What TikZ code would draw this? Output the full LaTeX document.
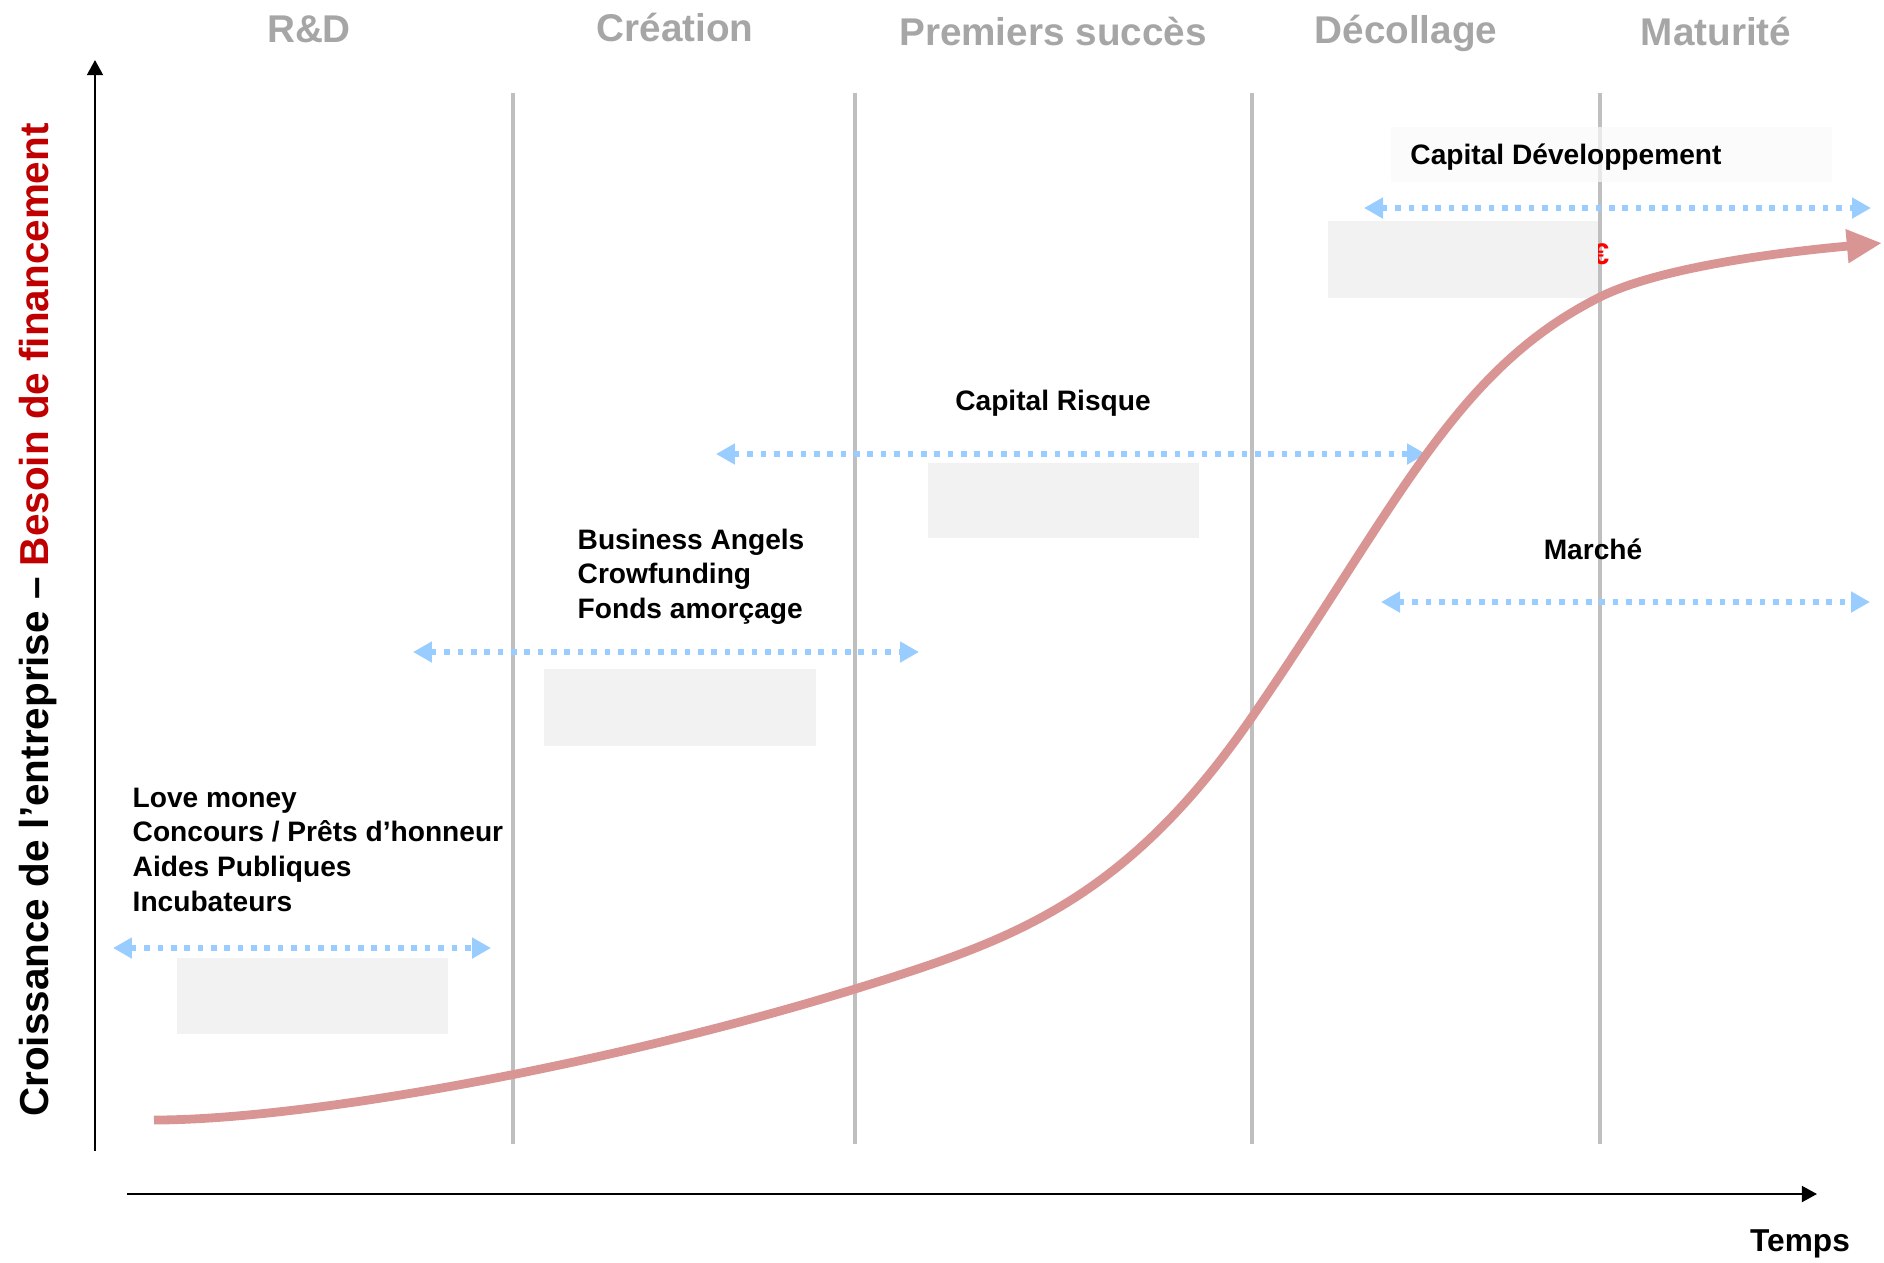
\documentclass[tikz,border=0pt]{standalone}
\usepackage{fontspec}
\setmainfont{Liberation Sans}
\usetikzlibrary{arrows.meta}
\definecolor{phasegray}{RGB}{166,166,166}
\definecolor{linegray}{RGB}{191,191,191}
\definecolor{boxgray}{RGB}{242,242,242}
\definecolor{rangeblue}{RGB}{153,204,255}
\definecolor{curvered}{RGB}{217,149,148}
\definecolor{finred}{RGB}{192,0,0}

\begin{document}
\begin{tikzpicture}[x=0.01cm, y=-0.01cm,
    phase/.style={font=\fontsize{11}{13}\selectfont\bfseries, text=phasegray, anchor=base},
    fundtext/.style={font=\fontsize{8}{9.9}\selectfont\bfseries, align=left, inner sep=0pt},
    divider/.style={draw=linegray, line width=1.1pt},
    greybox/.style={fill=boxgray},
    fundrange/.style={draw=rangeblue, line width=1.6pt, dash pattern=on 1.6pt off 2.2pt,
        {Triangle[length=5.4pt, width=5.7pt]}-{Triangle[length=5.4pt, width=5.7pt]}},
    axis/.style={line width=0.7pt, -{Triangle[length=4.3pt, width=4.5pt]}}]
    \useasboundingbox (0,0) rectangle (1884,1262);

    % Phase dividers
    \foreach \x/\n in {513/a, 855/b, 1252/c, 1600/d} {
        \coordinate (top\n) at (\x,93);
        \coordinate (bot\n) at (\x,1144);
        \draw[divider] (top\n) -- (bot\n);
    }

    % Phase titles
    \node[phase] (rd) at (309,42) {R\&D};
    \node[phase] (creation) at (675,41) {Création};
    \node[phase] (succes) at (1053,45) {Premiers succès};
    \node[phase] (decollage) at (1406,43) {Décollage};
    \node[phase] (maturite) at (1716,45) {Maturité};

    % Hidden amounts
    \node[text=red, inner sep=0pt, anchor=base east,
        font=\fontsize{8.5}{10}\selectfont\bfseries] (euro) at (1610,264) {€};
    \fill[greybox] (177,958) rectangle (448,1034);
    \fill[greybox] (544,669) rectangle (816,746);
    \fill[greybox] (928,463) rectangle (1199,538);
    \fill[greybox] (1328,221) rectangle (1598,298);
    \fill[black!2, opacity=0.7] (1391,127) rectangle (1832,182);

    % Sources of funding
    \node[fundtext, anchor=north west] (seed) at (132,787)
        {Love money\\Concours / Prêts d’honneur\\Aides Publiques\\Incubateurs};
    \node[fundtext, anchor=north west] (angels) at (577,528)
        {Business Angels\\Crowfunding\\Fonds amorçage};
    \node[fundtext, anchor=base] (risk) at (1053,410) {Capital Risque};
    \node[fundtext, anchor=base] (market) at (1593,559) {Marché};
    \node[fundtext, anchor=base] (growth) at (1566,164) {Capital Développement};

    % Ranges
    \coordinate (seedL) at (113,948);
    \coordinate (seedR) at (491,948);
    \coordinate (angelsL) at (413,652);
    \coordinate (angelsR) at (919,652);
    \coordinate (riskL) at (716,454);
    \coordinate (riskR) at (1426,454);
    \coordinate (marketL) at (1381,602);
    \coordinate (marketR) at (1870,602);
    \coordinate (growthL) at (1364,208);
    \coordinate (growthR) at (1871,208);
    \draw[fundrange] (seedL) -- (seedR);
    \draw[fundrange] (angelsL) -- (angelsR);
    \draw[fundrange] (riskL) -- (riskR);
    \draw[fundrange] (marketL) -- (marketR);
    \draw[fundrange] (growthL) -- (growthR);

    % Axes
    \coordinate (origin) at (95,1151);
    \coordinate (ytip) at (95,60);
    \coordinate (xstart) at (127,1194);
    \coordinate (xtip) at (1817,1194);
    \draw[axis] (origin) -- (ytip);
    \draw[axis] (xstart) -- (xtip);
    \node[font=\fontsize{9}{11}\selectfont\bfseries, anchor=base] (temps) at (1800,1251) {Temps};
    \node[rotate=90, font=\fontsize{11.5}{14}\selectfont\bfseries] (ylabel) at (38,620)
        {Croissance de l’entreprise – \textcolor{finred}{Besoin de financement}};

    % Growth curve
    \draw[curvered, line width=2.5pt, -{Triangle[length=10pt, width=9pt]}]
        (154,1120) .. controls (304,1120) and (605,1066) .. (855,989)
        .. controls (1005,942) and (1122,906) .. (1252,717)
        .. controls (1398,505) and (1454,370) .. (1600,297)
        .. controls (1660,267) and (1782,252) .. (1882,243);
\end{tikzpicture}
\end{document}
